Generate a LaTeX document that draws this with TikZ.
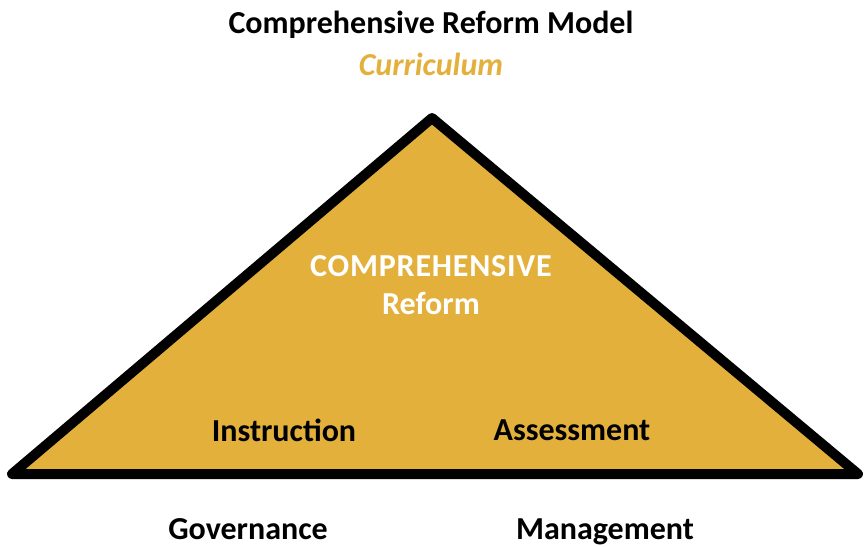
\documentclass[tikz,border=0pt]{standalone}
\usepackage{fontspec}
\setmainfont{Carlito}
\definecolor{gold}{RGB}{227,176,60}
\tikzset{lbl/.style={font=\bfseries\fontsize{32}{36}\selectfont}}
\begin{document}
\begin{tikzpicture}[x=1pt,y=-1pt]
\useasboundingbox (0,0) rectangle (864,546);
\coordinate (tid0) at (432,118);
\coordinate (tid1) at (12,474);
\coordinate (tid2) at (858,474);
\filldraw[fill=gold, line width=10pt, line join=round] (tid0) -- (tid1) -- (tid2) -- cycle;
\node[lbl] (title) at (431,25){Comprehensive Reform Model};
\node[lbl, gold, font=\bfseries\itshape\fontsize{32}{36}\selectfont] (curr) at (431,64){Curriculum};
\node[lbl, white] (comp) at (431,266){\addfontfeature{LetterSpace=2.5}COMPREHENSIVE};
\node[lbl, white] (reform) at (431,303){Reform};
\node[lbl] (instr) at (284,430){Instruction};
\node[lbl] (assess) at (572,430){Assessment};
\node[lbl] (gov) at (248,529){Governance};
\node[lbl] (mgmt) at (605,532){Management};

\end{tikzpicture}
\end{document}
